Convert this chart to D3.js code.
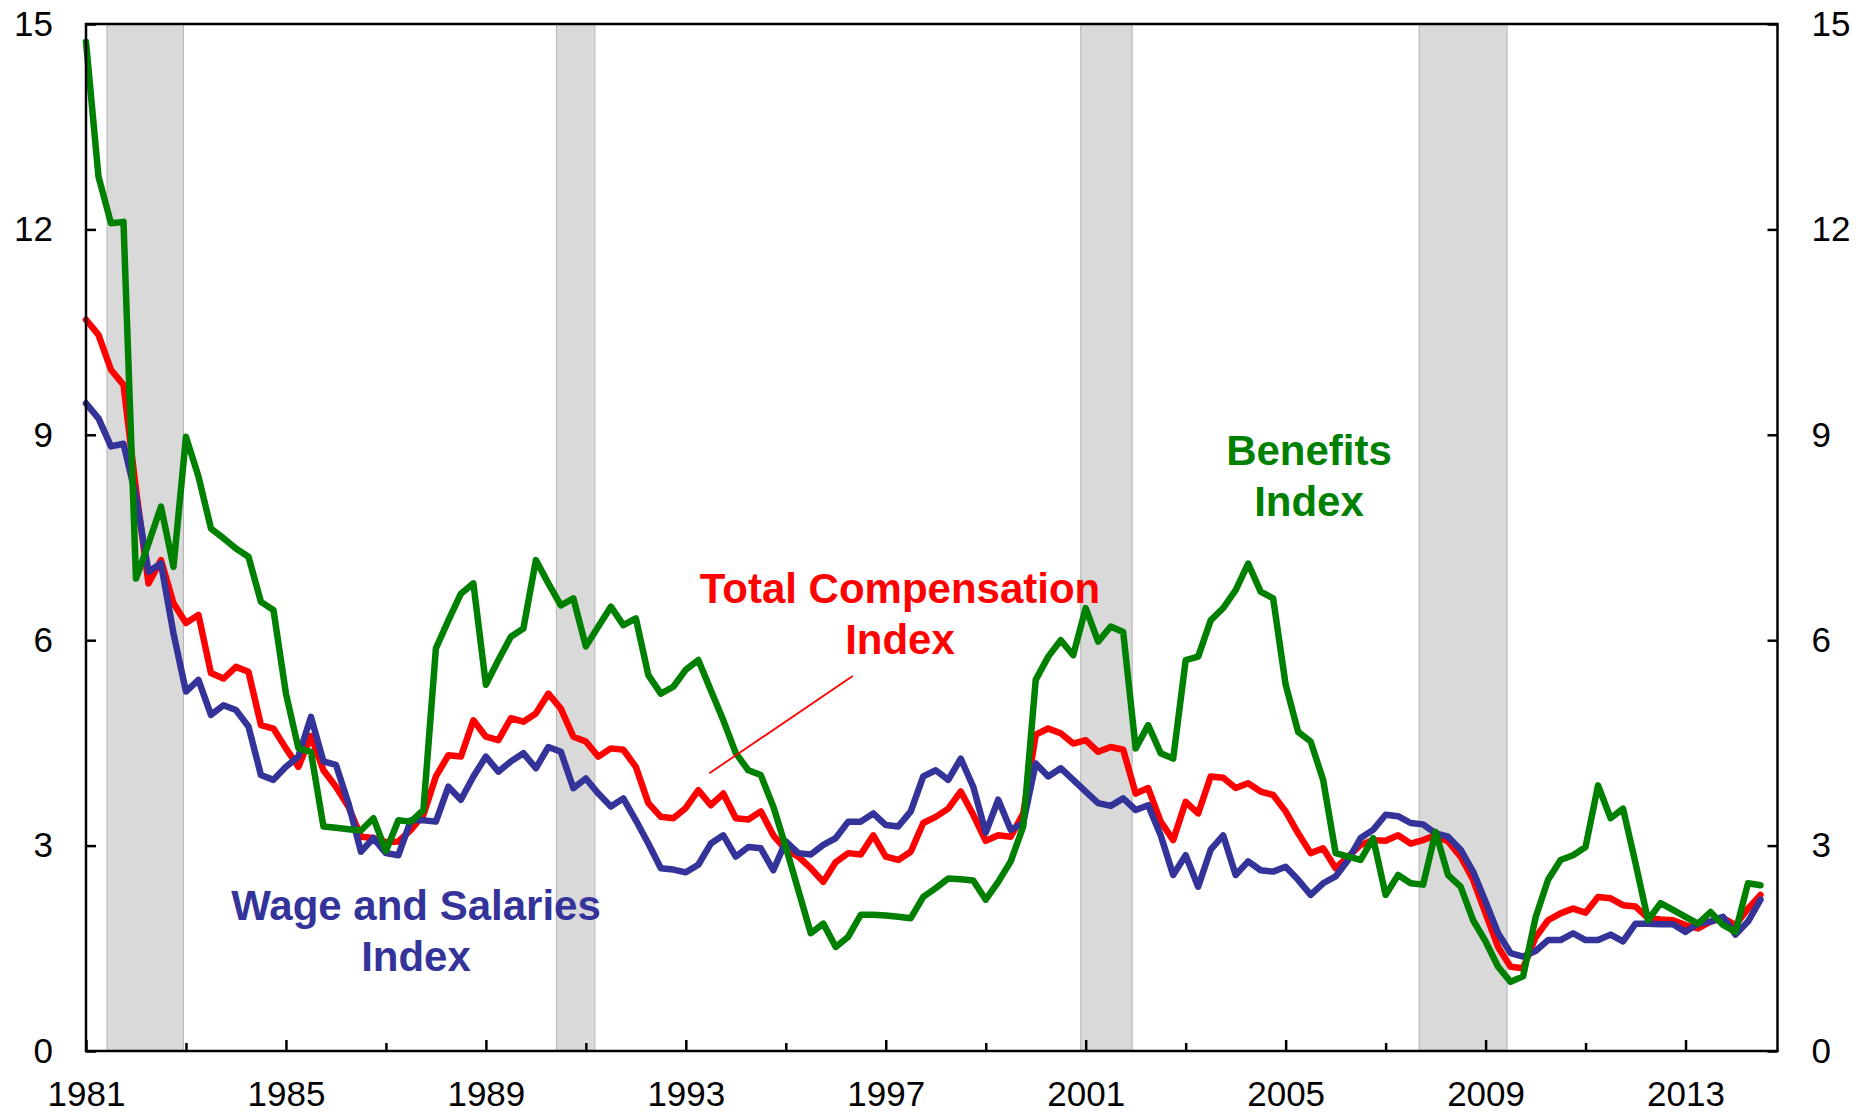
<!DOCTYPE html>
<html>
<head>
<meta charset="utf-8">
<script src="https://cdn.jsdelivr.net/npm/d3@7"></script>
<style>
  body { margin: 0; background: #fff; }
  text { font-family: "Liberation Sans", Arial, sans-serif; }
</style>
</head>
<body>
<svg id="plot"></svg>
<script>
// quarterly series, 1981Q1 onwards (12-month % change)
const startYear = 1981;

const benefits = [
  14.74, 12.77, 12.09, 12.11, 6.90, 7.41, 7.95, 7.07, 8.97, 8.39,
  7.63, 7.49, 7.34, 7.22, 6.56, 6.44, 5.22, 4.42, 4.37, 3.28,
  3.26, 3.24, 3.22, 3.40, 2.92, 3.37, 3.35, 3.52, 5.88, 6.29,
  6.68, 6.83, 5.35, 5.71, 6.05, 6.17, 7.17, 6.83, 6.51, 6.61,
  5.91, 6.20, 6.49, 6.22, 6.32, 5.49, 5.22, 5.32, 5.57, 5.71,
  5.27, 4.83, 4.35, 4.10, 4.03, 3.57, 2.98, 2.35, 1.72, 1.86,
  1.52, 1.67, 1.99, 1.99, 1.98, 1.96, 1.94, 2.25, 2.38, 2.52,
  2.51, 2.49, 2.21, 2.47, 2.77, 3.28, 5.42, 5.76, 6.00, 5.78,
  6.47, 5.98, 6.20, 6.12, 4.42, 4.76, 4.35, 4.27, 5.71, 5.76,
  6.29, 6.47, 6.73, 7.12, 6.71, 6.61, 5.35, 4.66, 4.52, 3.96,
  2.89, 2.84, 2.79, 3.11, 2.28, 2.57, 2.45, 2.43, 3.20, 2.57,
  2.40, 1.91, 1.60, 1.23, 1.01, 1.09, 1.95, 2.50, 2.79, 2.86,
  2.98, 3.88, 3.40, 3.54, 2.74, 1.91, 2.16, 2.06, 1.96, 1.86,
  2.03, 1.84, 1.74, 2.45, 2.42
];

const totalComp = [
  10.68, 10.46, 9.95, 9.73, 8.20, 6.83, 7.17, 6.54, 6.25, 6.37,
  5.52, 5.44, 5.61, 5.54, 4.76, 4.71, 4.42, 4.15, 4.60, 4.10,
  3.86, 3.57, 3.13, 3.11, 3.05, 3.06, 3.23, 3.45, 4.01, 4.32,
  4.30, 4.83, 4.59, 4.54, 4.86, 4.81, 4.93, 5.22, 5.00, 4.59,
  4.52, 4.30, 4.42, 4.40, 4.15, 3.62, 3.42, 3.40, 3.55, 3.81,
  3.59, 3.76, 3.40, 3.38, 3.50, 3.15, 2.94, 2.84, 2.67, 2.47,
  2.76, 2.89, 2.87, 3.15, 2.84, 2.79, 2.91, 3.33, 3.42, 3.54,
  3.79, 3.45, 3.07, 3.15, 3.13, 3.47, 4.62, 4.71, 4.64, 4.49,
  4.54, 4.37, 4.44, 4.40, 3.76, 3.84, 3.35, 3.08, 3.64, 3.47,
  4.01, 3.99, 3.84, 3.91, 3.79, 3.74, 3.50, 3.18, 2.89, 2.96,
  2.67, 2.84, 3.01, 3.08, 3.07, 3.15, 3.03, 3.08, 3.15, 3.06,
  2.84, 2.50, 2.01, 1.52, 1.23, 1.21, 1.66, 1.91, 2.01, 2.08,
  2.02, 2.25, 2.23, 2.13, 2.11, 1.94, 1.92, 1.91, 1.84, 1.79,
  1.89, 1.94, 1.84, 2.08, 2.28
];

const wages = [
  9.46, 9.24, 8.83, 8.87, 8.10, 7.00, 7.12, 6.10, 5.25, 5.42,
  4.91, 5.05, 4.98, 4.74, 4.03, 3.96, 4.15, 4.30, 4.88, 4.23,
  4.18, 3.62, 2.91, 3.11, 2.89, 2.86, 3.37, 3.37, 3.35, 3.86,
  3.67, 4.01, 4.30, 4.08, 4.23, 4.35, 4.13, 4.44, 4.37, 3.84,
  3.98, 3.76, 3.57, 3.69, 3.37, 3.03, 2.67, 2.65, 2.61, 2.72,
  3.03, 3.15, 2.84, 2.98, 2.96, 2.64, 3.06, 2.89, 2.87, 3.01,
  3.11, 3.35, 3.35, 3.47, 3.30, 3.28, 3.50, 4.01, 4.10, 3.96,
  4.27, 3.86, 3.19, 3.67, 3.23, 3.33, 4.20, 4.01, 4.13, 3.96,
  3.79, 3.62, 3.58, 3.69, 3.52, 3.59, 3.15, 2.57, 2.86, 2.40,
  2.94, 3.15, 2.57, 2.77, 2.64, 2.62, 2.69, 2.50, 2.28, 2.45,
  2.55, 2.79, 3.11, 3.23, 3.45, 3.43, 3.33, 3.31, 3.18, 3.13,
  2.94, 2.62, 2.18, 1.72, 1.43, 1.38, 1.46, 1.62, 1.62, 1.72,
  1.62, 1.62, 1.70, 1.60, 1.86, 1.86, 1.85, 1.85, 1.74, 1.86,
  1.89, 1.96, 1.70, 1.89, 2.21
];

// recessions (shaded bands)
const recessionStart = [1981.42, 1990.41, 2000.90, 2007.67];
const recessionEnd = [1982.95, 1991.18, 2001.93, 2009.43];

const yTicks = [0, 3, 6, 9, 12, 15];
const xLabelYears = [1981, 1985, 1989, 1993, 1997, 2001, 2005, 2009, 2013];
const xMinorYears = [1983, 1987, 1991, 1995, 1999, 2003, 2007, 2011];

const svg = d3.select("#plot")
    .attr("width", 1865)
    .attr("height", 1117);

const margin = { top: 24, right: 87.5, bottom: 66, left: 86 };
const width = 1865 - margin.left - margin.right;
const height = 1117 - margin.top - margin.bottom;

const x = d3.scaleLinear()
    .domain([1981, 2014.84])
    .range([margin.left, margin.left + width]);
const y = d3.scaleLinear()
    .domain([0, 15])
    .range([margin.top + height, margin.top]);

// recession shading
svg.append("g")
    .selectAll("rect")
    .data(recessionStart.map((s, i) => ({ s: s, e: recessionEnd[i] })))
    .enter().append("rect")
    .attr("x", d => x(d.s))
    .attr("y", y(15))
    .attr("width", d => x(d.e) - x(d.s))
    .attr("height", y(0) - y(15))
    .style("fill", "#d9d9d9")
    .style("stroke", "#b4b4b4")
    .style("stroke-width", 1);

// lines
const line = d3.line()
    .x((d, i) => x(startYear + i / 4))
    .y(d => y(d));

const series = [
    { values: totalComp, color: "#ff0000" },
    { values: wages, color: "#333399" },
    { values: benefits, color: "#008000" }
];

series.forEach(s => {
    svg.append("path")
        .datum(s.values)
        .attr("d", line)
        .style("fill", "none")
        .style("stroke", s.color)
        .style("stroke-width", 6.5)
        .style("stroke-linejoin", "round")
        .style("stroke-linecap", "round");
});

// plot box
svg.append("rect")
    .attr("x", margin.left)
    .attr("y", margin.top)
    .attr("width", width)
    .attr("height", height)
    .style("fill", "none")
    .style("stroke", "#000")
    .style("stroke-width", 2.5);

// axes
function styleAxis(g) {
    g.select(".domain").remove();
    g.selectAll("line").style("stroke", "#000").style("stroke-width", 2.5);
    g.selectAll("text")
        .style("font-size", "35px")
        .style("fill", "#000")
        .style("font-family", "'Liberation Sans', Arial, sans-serif");
}

svg.append("g")
    .attr("transform", `translate(0, ${y(0)})`)
    .call(d3.axisBottom(x).tickValues(xLabelYears).tickFormat(d3.format("d"))
        .tickSize(-11).tickPadding(30))
    .call(styleAxis);

svg.append("g")
    .attr("transform", `translate(0, ${y(0)})`)
    .call(d3.axisBottom(x).tickValues(xMinorYears).tickFormat(""))
        .call(g => g.selectAll("line").attr("y2", -8))
    .call(styleAxis);

svg.append("g")
    .attr("transform", `translate(${x.range()[0]}, 0)`)
    .call(d3.axisLeft(y).tickValues(yTicks).tickSize(-10).tickPadding(33))
    .call(styleAxis);

svg.append("g")
    .attr("transform", `translate(${x.range()[1]}, 0)`)
    .call(d3.axisRight(y).tickValues(yTicks).tickSize(-10).tickPadding(34))
    .call(styleAxis);

// series labels
const labels = [
    { lines: ["Benefits", "Index"], cx: 1309, yb: 465, color: "#008000" },
    { lines: ["Total Compensation", "Index"], cx: 900, yb: 603, color: "#ff0000" },
    { lines: ["Wage and Salaries", "Index"], cx: 416, yb: 920, color: "#333399" }
];

labels.forEach(l => {
    const t = svg.append("text")
        .attr("text-anchor", "middle")
        .style("font-size", "42px")
        .style("font-weight", "bold")
        .style("fill", l.color);
    l.lines.forEach((s, i) => {
        t.append("tspan")
            .attr("x", l.cx)
            .attr("y", l.yb + i * 51)
            .text(s);
    });
});

// pointer from the total compensation label
svg.append("line")
    .attr("x1", 852.7)
    .attr("y1", 676)
    .attr("x2", 709.3)
    .attr("y2", 773.3)
    .style("stroke", "#ff0000")
    .style("stroke-width", 1.8);
</script>
</body>
</html>
